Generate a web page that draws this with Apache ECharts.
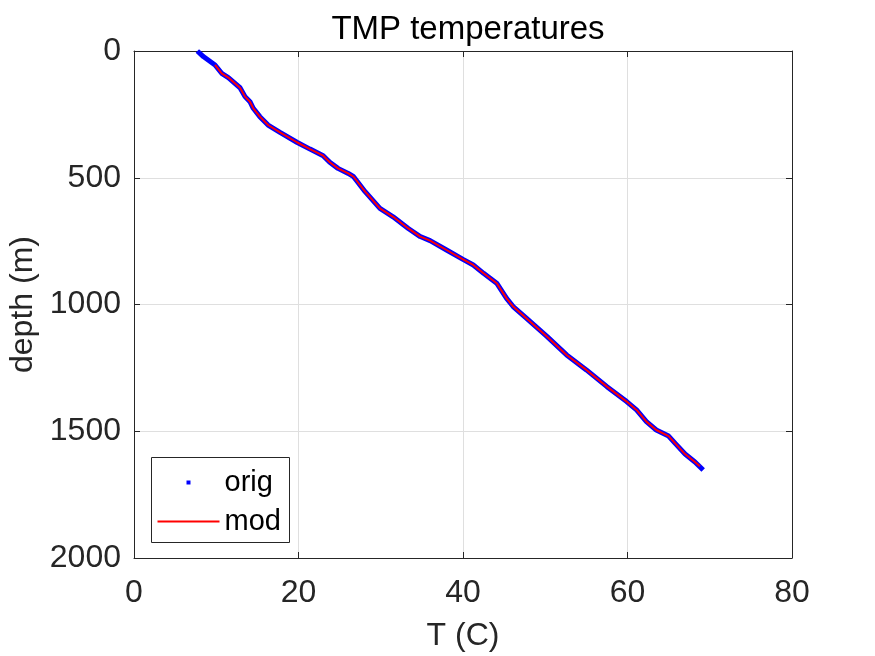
<!DOCTYPE html>
<html>
<head>
<meta charset="utf-8">
<script src="https://cdn.jsdelivr.net/npm/echarts@6/dist/echarts.min.js"></script>
<style>html,body{margin:0;padding:0;background:#fff}#c{width:875px;height:656px}</style>
</head>
<body>
<div id="c"></div>
<script>
// Original measurements (depth m, temperature C)
var origDepth = [0, 22, 55, 88, 105, 145, 180, 200, 226, 259, 292, 321, 360, 387, 413, 439, 463, 483, 496, 555, 621, 654, 700, 732, 748, 785, 822, 844, 877, 916, 976, 1008, 1054, 1126, 1199, 1258, 1324, 1383, 1416, 1462, 1495, 1519, 1548, 1590, 1621, 1653];
var origTemp  = [7.7, 8.43, 9.85, 10.66, 11.47, 12.89, 13.5, 14.1, 14.5, 15.3, 16.3, 17.75, 19.8, 21.4, 23.0, 23.8, 24.8, 26.05, 26.7, 28.1, 29.9, 31.5, 33.35, 34.8, 36.0, 38.0, 40.0, 41.25, 42.5, 44.1, 45.3, 46.1, 47.7, 50.2, 52.6, 55.0, 57.5, 59.9, 61.1, 62.3, 63.5, 65.0, 65.8, 67.0, 68.2, 69.2];
// Modelled profile
var modDepth = [55, 88, 105, 145, 180, 200, 226, 259, 292, 321, 360, 387, 413, 439, 463, 483, 496, 555, 621, 654, 700, 732, 748, 785, 822, 844, 877, 916, 976, 1008, 1054, 1126, 1199, 1258, 1324, 1383, 1416, 1462, 1495, 1519, 1548, 1590, 1621, 1638];
var modTemp  = [9.85, 10.66, 11.47, 12.89, 13.5, 14.1, 14.5, 15.3, 16.3, 17.75, 19.8, 21.4, 23.0, 23.8, 24.8, 26.05, 26.7, 28.1, 29.9, 31.5, 33.35, 34.8, 36.0, 38.0, 40.0, 41.25, 42.5, 44.1, 45.3, 46.1, 47.7, 50.2, 52.6, 55.0, 57.5, 59.9, 61.1, 62.3, 63.5, 65.0, 65.8, 67.0, 68.2, 68.8];
var seriesNames = ['orig', 'mod'];
var titleText = 'TMP temperatures';
var xName = 'T (C)';
var yName = 'depth (m)';

function pairs(t, d) { return t.map(function (v, i) { return [v, d[i]]; }); }

var FONT = '"Liberation Sans", Arial, Helvetica, sans-serif';
var AX = '#262626';
var GRIDC = '#dfdfdf';

function axisBase(extra) {
  var o = {
    axisLine: {show: true, onZero: false, lineStyle: {color: AX, width: 1}},
    axisTick: {show: true, inside: true, length: 6, lineStyle: {color: AX, width: 1}}
  };
  for (var k in extra) o[k] = extra[k];
  return o;
}
function plain(v) { return String(v); }

var chart = echarts.init(document.getElementById('c'), null, {renderer: 'canvas'});
chart.setOption({
  animation: false,
  backgroundColor: '#fff',
  title: {
    text: titleText, left: 463, textAlign: 'center', top: 8,
    textStyle: {fontFamily: FONT, fontSize: 33, fontWeight: 'normal', color: '#000'}
  },
  grid: {left: 134, right: 83, top: 51, bottom: 98, containLabel: false, outerBoundsMode: 'none'},
  xAxis: [
    axisBase({
      type: 'value', position: 'bottom', min: 0, max: 80, interval: 20,
      name: xName, nameLocation: 'middle', nameGap: 62,
      nameTextStyle: {fontFamily: FONT, fontSize: 32, color: AX},
      axisLabel: {fontFamily: FONT, fontSize: 32, color: AX, margin: 19, formatter: plain},
      splitLine: {show: true, lineStyle: {color: GRIDC, width: 1}}
    }),
    axisBase({
      type: 'value', position: 'top', min: 0, max: 80, interval: 20,
      axisLabel: {show: false}, splitLine: {show: false}
    })
  ],
  yAxis: [
    axisBase({
      type: 'value', position: 'left', inverse: true, min: 0, max: 2000, interval: 500,
      name: yName, nameLocation: 'middle', nameGap: 92, nameRotate: 90,
      nameTextStyle: {fontFamily: FONT, fontSize: 32, color: AX},
      axisLabel: {fontFamily: FONT, fontSize: 32, color: AX, margin: 13, formatter: plain},
      splitLine: {show: true, lineStyle: {color: GRIDC, width: 1}}
    }),
    axisBase({
      type: 'value', position: 'right', inverse: true, min: 0, max: 2000, interval: 500,
      axisLabel: {show: false}, splitLine: {show: false}
    })
  ],
  legend: [
    {
      data: [seriesNames[0]], left: 186.5, top: 468, padding: 0, selectedMode: false,
      icon: 'rect', itemWidth: 4, itemHeight: 4,
      itemStyle: {color: '#0000ff', borderWidth: 0},
      textStyle: {fontFamily: FONT, fontSize: 29, color: '#000', padding: [0, 0, 0, 29], lineHeight: 29}
    },
    {
      data: [seriesNames[1]], left: 157.5, top: 507, padding: 0, selectedMode: false,
      icon: 'rect', itemWidth: 62, itemHeight: 2,
      itemStyle: {color: '#ff0000', borderWidth: 0},
      textStyle: {fontFamily: FONT, fontSize: 29, color: '#000', lineHeight: 29}
    }
  ],
  graphic: [{
    type: 'rect', z: 3, left: 151, top: 457,
    shape: {x: 0, y: 0, width: 138, height: 85},
    style: {fill: '#fff', stroke: AX, lineWidth: 1}
  }],
  series: [
    {
      name: seriesNames[0], type: 'line', xAxisIndex: 0, yAxisIndex: 0,
      data: pairs(origTemp, origDepth), showSymbol: false, symbol: 'none',
      lineStyle: {color: '#0000ff', width: 5}, itemStyle: {color: '#0000ff'},
      smooth: false, z: 2
    },
    {
      name: seriesNames[1], type: 'line', xAxisIndex: 0, yAxisIndex: 0,
      data: pairs(modTemp, modDepth), showSymbol: false, symbol: 'none',
      lineStyle: {color: '#ff0000', width: 2}, itemStyle: {color: '#ff0000'},
      smooth: false, z: 3
    }
  ]
});
</script>
</body>
</html>
